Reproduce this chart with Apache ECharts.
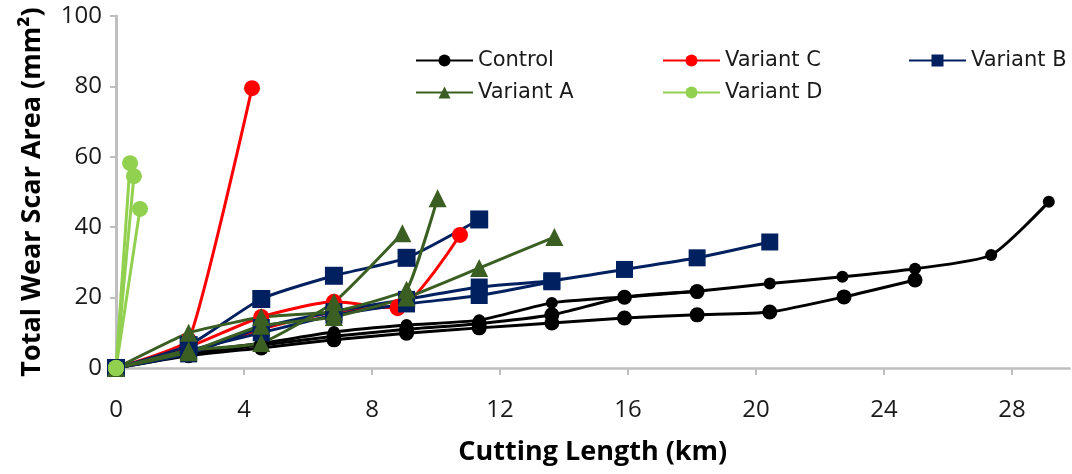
<!DOCTYPE html>
<html><head><meta charset="utf-8">
<script src="https://cdn.jsdelivr.net/npm/echarts@6/dist/echarts.min.js"></script>
<style>html,body{margin:0;padding:0;background:#fff}#c{width:1072px;height:474px}</style>
</head><body><div id="c"></div>
<script>
// Tick labels
const xTicks = [0, 4, 8, 12, 16, 20, 24, 28];
const yTicks = [0, 20, 40, 60, 80, 100];
const seriesNames = ['Control', 'Variant C', 'Variant B', 'Variant A', 'Variant D'];

// Control replicates [km, mm2]
const controlA = [[0,0],[2.27,4.5],[4.54,7],[6.81,10.2],[9.08,12.2],[11.35,13.6],[13.62,18.5],[15.89,20.2],[18.16,21.8],[20.43,24],[22.7,25.9],[24.97,28.2],[27.35,32.1],[29.15,47.2]];
const controlB = [[0,0],[2.27,4],[4.54,6.5],[6.81,9],[9.08,11],[11.35,12.6],[13.62,15.1],[15.89,20.1],[18.16,21.7]];
const controlC = [[0,0],[2.27,3.5],[4.54,5.7],[6.81,8],[9.08,9.9],[11.35,11.4],[13.62,12.8],[15.89,14.2],[18.16,15.1],[20.43,15.9],[22.75,20.2],[24.97,25]];
// Variant C replicates
const variantC1 = [[0,0],[2.27,8],[4.25,79.5]];
const variantC2 = [[0,0],[2.27,6],[4.54,14.5],[6.81,18.8],[8.8,17],[10.75,37.8]];
const variantC3 = [[0,0],[2.27,4.5],[4.54,11],[6.81,16],[8.8,17.5]];
// Variant B replicates
const variantB1 = [[0,0],[2.27,6.5],[4.54,19.6],[6.81,26.2],[9.08,31.3],[11.35,42.2]];
const variantB2 = [[0,0],[2.27,4],[4.54,11.5],[6.81,16],[9.08,19.5],[11.35,23],[13.62,24.8],[15.89,28],[18.16,31.3],[20.43,35.8]];
const variantB3 = [[0,0],[2.27,5],[4.54,10],[6.81,15],[9.08,18.2],[11.35,20.6],[13.62,24.5]];
// Variant A replicates
const variantA1 = [[0,0],[2.27,10],[4.54,14.5],[6.81,16],[9.08,22.2],[10.05,48.2]];
const variantA2 = [[0,0],[2.27,5],[4.54,7.1],[6.81,18.7],[8.95,38.3]];
const variantA3 = [[0,0],[2.27,4.5],[4.54,12],[6.81,14.5],[9.08,20],[11.35,28.4],[13.7,37.2]];
// Variant D replicates
const variantD1 = [[0,0],[0.44,58.2]];
const variantD2 = [[0,0],[0.56,54.5]];
const variantD3 = [[0,0],[0.75,45.2]];

const colors = {
  'Control': '#000000',
  'Variant C': '#ff0000',
  'Variant B': '#002060',
  'Variant A': '#3b5e23',
  'Variant D': '#92d050'
};
const symbols = {
  'Control': 'circle',
  'Variant C': 'circle',
  'Variant B': 'rect',
  'Variant A': 'triangle',
  'Variant D': 'circle'
};

function mk(name, data, size, smooth) {
  return {
    name: name, type: 'line', data: data,
    symbol: symbols[name], symbolSize: size,
    smooth: smooth,
    lineStyle: { color: colors[name], width: 3 },
    itemStyle: { color: colors[name] },
    z: 2
  };
}

const series = [
  mk('Control', controlA, 12, 0.2),
  mk('Control', controlC, 15, 0.2),
  mk('Control', controlB, 15, 0.2),
  mk('Variant C', variantC3, 15, 0.2),
  mk('Variant C', variantC2, 16, 0.2),
  mk('Variant C', variantC1, 16, 0.12),
  mk('Variant B', variantB3, 17, 0.2),
  mk('Variant B', variantB2, 17, 0.2),
  mk('Variant B', variantB1, 18, 0.2),
  mk('Variant A', variantA3, 18, 0.15),
  mk('Variant A', variantA2, 18, 0.15),
  mk('Variant A', variantA1, 18, 0.1),
  mk('Variant D', variantD3, 16, false),
  mk('Variant D', variantD2, 16, false),
  mk('Variant D', variantD1, 16, false)
];

const legendPos = [
  { name: 'Control', left: 415, top: 50 },
  { name: 'Variant C', left: 662, top: 50 },
  { name: 'Variant B', left: 908, top: 50 },
  { name: 'Variant A', left: 415, top: 82 },
  { name: 'Variant D', left: 662, top: 82 }
];

const legendFont = 'DejaVu Sans, Verdana, sans-serif';
const axisFont = 'Open Sans, sans-serif';

const chart = echarts.init(document.getElementById('c'));
chart.setOption({
  animation: false,
  backgroundColor: '#ffffff',
  grid: { left: 116, top: 16, bottom: 106, right: 2.4, containLabel: false },
  legend: legendPos.map(p => ({
    data: [p.name], left: p.left, top: p.top, orient: 'horizontal',
    itemWidth: 57, itemHeight: 15, itemGap: 0, padding: 0,
    textStyle: { fontFamily: legendFont, fontSize: 21, color: '#1a1a1a' },
    selectedMode: false
  })),
  xAxis: {
    type: 'value', min: xTicks[0], max: 29.8, interval: 4,
    name: 'Cutting Length (km)', nameLocation: 'middle', nameGap: 71,
    nameTextStyle: { fontFamily: axisFont, fontSize: 27, fontWeight: 'bold', color: '#000' },
    axisLine: { show: true, lineStyle: { color: '#bfbfbf', width: 2.5 } },
    axisTick: { show: true, length: 7, customValues: xTicks, lineStyle: { color: '#bfbfbf', width: 2 } },
    axisLabel: { margin: 30, fontFamily: axisFont, fontSize: 24, color: '#1a1a1a', customValues: xTicks,
      showMaxLabel: true,
      formatter: v => xTicks.indexOf(v) >= 0 ? String(v) : '' },
    splitLine: { show: false }
  },
  yAxis: {
    type: 'value', min: yTicks[0], max: yTicks[yTicks.length - 1], interval: 20,
    name: 'Total Wear Scar Area (mm²)', nameLocation: 'middle', nameGap: 70,
    nameTextStyle: { fontFamily: axisFont, fontSize: 27, fontWeight: 'bold', color: '#000' },
    axisLine: { show: true, lineStyle: { color: '#bfbfbf', width: 3 } },
    axisTick: { show: true, length: 6, lineStyle: { color: '#bfbfbf', width: 2 } },
    axisLabel: { margin: 14, fontFamily: axisFont, fontSize: 24, color: '#1a1a1a' },
    splitLine: { show: false }
  },
  series: series
});
</script>
</body></html>
